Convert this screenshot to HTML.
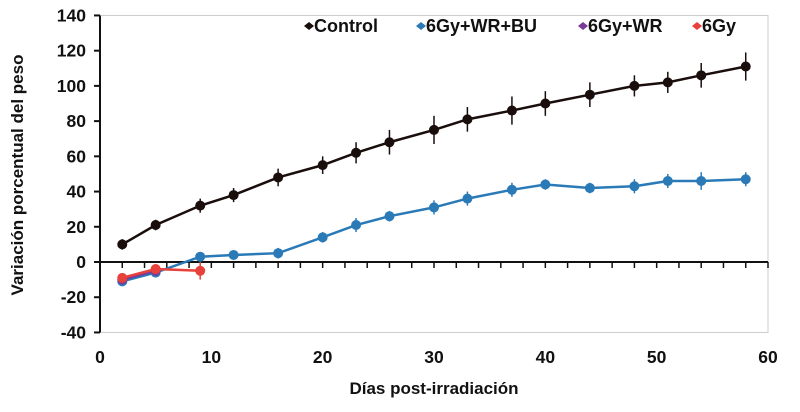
<!DOCTYPE html>
<html><head><meta charset="utf-8"><style>
body{margin:0;background:#fff;width:800px;height:407px;overflow:hidden}
text{font-family:"Liberation Sans",Arial,sans-serif;font-weight:bold;fill:#111}
</style></head><body>
<svg id="chart" width="800" height="407" viewBox="0 0 800 407" xmlns="http://www.w3.org/2000/svg">
<g id="axes"></g><g id="series"></g><g id="legend"></g>
</svg>
<script>
const days=[2,5,9,12,16,20,23,26,30,33,37,40,44,48,51,54,58];
const controlVals=[10,21,32,38,48,55,62,68,75,81,86,90,95,100,102,106,111];
const controlErr=[3,3,4,4,5,5,6,7,8,7,8,7,7,6,6,7,8];
const buVals=[-11,-6,3,4,5,14,21,26,31,36,41,44,42,43,46,46,47];
const buErr=[2,2,2,2,3,3,4,3,4,4,4,3,3,4,4,5,4];
const wrDays=[2,5];
const wrVals=[-10,-5];
const wrErr=[2,2];
const gyDays=[2,5,9];
const gyVals=[-9,-4,-5];
const gyErr=[2,2,5];
const yTicks=[-40,-20,0,20,40,60,80,100,120,140];
const xTicks=[0,10,20,30,40,50,60];
const NS="http://www.w3.org/2000/svg";
const X=v=>100+v*(768-100)/60;
const Y=v=>262-v*(317/180);
function mk(tag,attrs,parent,txt){const e=document.createElementNS(NS,tag);for(const k in attrs)e.setAttribute(k,attrs[k]);if(txt!==undefined)e.textContent=txt;parent.appendChild(e);return e;}
const ax=document.getElementById('axes');
let e;
e=mk('rect',{x:100,y:Y(140),width:X(60)-100,height:Y(-40)-Y(140),fill:'none',stroke:'#ccc','stroke-width':1},ax);


e=mk('line',{x1:100,y1:Y(140),x2:100,y2:Y(-40),stroke:'#111','stroke-width':2},ax);


e=mk('line',{x1:100,y1:Y(0),x2:X(60),y2:Y(0),stroke:'#111','stroke-width':2},ax);


yTicks.forEach(t=>{
 mk('line',{x1:94,y1:Y(t),x2:100,y2:Y(t),stroke:'#111','stroke-width':2},ax);
 e=mk('text',{x:86,y:Y(t)+6,'text-anchor':'end','font-size':17.5},ax,t);
 
 
});
for(let d=2;d<=60;d+=2){mk('line',{x1:X(d),y1:Y(0),x2:X(d),y2:Y(0)+6,stroke:'#111','stroke-width':1.5},ax);}
xTicks.forEach(t=>{
 e=mk('text',{x:X(t),y:363,'text-anchor':'middle','font-size':17.5},ax,t);
 
 
});
e=mk('text',{x:434,y:394,'text-anchor':'middle','font-size':17},ax,'Días post-irradiación');


e=mk('text',{x:0,y:0,'text-anchor':'middle','font-size':17,transform:'translate(23,175) rotate(-90)'},ax,'Variación porcentual del peso');


const sg=document.getElementById('series');
function series(name,xs,vs,es,color){
 const g=mk('g',{},sg);
 
 
 xs.forEach((d,i)=>{mk('line',{x1:X(d),y1:Y(vs[i]+es[i]),x2:X(d),y2:Y(vs[i]-es[i]),stroke:color,'stroke-width':1.5},g);});
 mk('polyline',{points:xs.map((d,i)=>X(d)+','+Y(vs[i])).join(' '),fill:'none',stroke:color,'stroke-width':2.5},g);
 xs.forEach((d,i)=>{const c=mk('circle',{cx:X(d),cy:Y(vs[i]),r:5,fill:color},g);
  
  });
}
series('control',days,controlVals,controlErr,'#1a0e0c');
series('6gy-wr-bu',days,buVals,buErr,'#2a7ab8');
series('6gy-wr',wrDays,wrVals,wrErr,'#7a3a9a');
series('6gy',gyDays,gyVals,gyErr,'#e8403a');
const lg=document.getElementById('legend');
[['Control','#1a0e0c',309],['6Gy+WR+BU','#2a7ab8',421],['6Gy+WR','#7a3a9a',583],['6Gy','#e8403a',697]].forEach(([n,c,x])=>{
 const g=mk('g',{},lg);
 
 
 mk('polygon',{points:`${x-5},26 ${x},22 ${x+5},26 ${x},30`,fill:c},g);
 mk('text',{x:x+5,y:32,'font-size':18},g,n);
});
</script>
</body></html>
